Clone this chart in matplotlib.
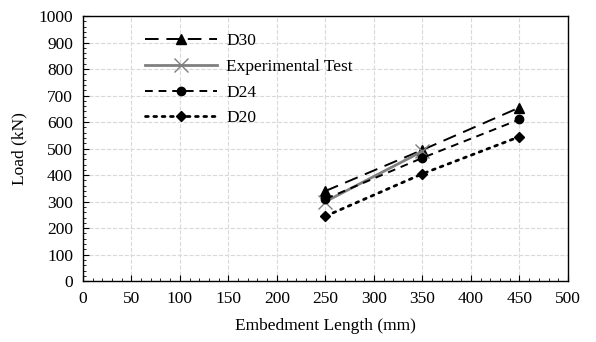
import numpy as np
import matplotlib.pyplot as plt
from matplotlib.ticker import MultipleLocator

# Embedment length (mm)
x_d30 = [250, 350, 450]
y_d30 = [340, 495, 655]

x_exp = [250, 350]
y_exp = [300, 490]

x_d24 = [250, 350, 450]
y_d24 = [310, 465, 610]

x_d20 = [250, 350, 450]
y_d20 = [245, 405, 545]

plt.rcParams['font.family'] = ['Liberation Serif', 'DejaVu Serif']
plt.rcParams['font.size'] = 12.5

fig = plt.figure(figsize=(5.96, 3.42), dpi=100)
ax = fig.add_axes([0.139, 0.178, 0.814, 0.775])

ax.plot(x_d30, y_d30, color='black', linestyle=(0, (7, 4)), linewidth=1.4,
        marker='^', markersize=7, label='D30')
ax.plot(x_exp, y_exp, color='gray', linestyle='-', linewidth=2,
        marker='x', markersize=10, markeredgewidth=1.0, label='Experimental Test')
ax.plot(x_d24, y_d24, color='black', linestyle=(0, (4, 3)), linewidth=1.4,
        marker='o', markersize=6, label='D24')
ax.plot(x_d20, y_d20, color='black', linestyle=(0, (1, 2)), linewidth=2,
        dash_capstyle='round', marker='D', markersize=5, label='D20')

ax.set_xlim(0, 500)
ax.set_ylim(0, 1000)
ax.xaxis.set_major_locator(MultipleLocator(50))
ax.xaxis.set_minor_locator(MultipleLocator(10))
ax.yaxis.set_major_locator(MultipleLocator(100))
ax.yaxis.set_minor_locator(MultipleLocator(20))
ax.tick_params(which='both', direction='in', top=False, right=False)
ax.tick_params(which='major', length=4, labelsize=12.5, pad=7)
ax.tick_params(which='minor', length=2.5)
ax.grid(True, which='major', color='#d9d9d9', linestyle='--', linewidth=0.8)
ax.set_axisbelow(True)
for s in ax.spines.values():
    s.set_linewidth(1.0)

ax.set_xlabel('Embedment Length (mm)', fontsize=12.5, labelpad=8)
ax.set_ylabel('Load (kN)', fontsize=12.5, labelpad=8)

ax.legend(loc='upper left', bbox_to_anchor=(0.095, 0.995), frameon=False,
          handlelength=4.2, handletextpad=0.5, numpoints=1, labelspacing=0.55,
          fontsize=12.5)

plt.savefig('out.png', dpi=100)
plt.close()
